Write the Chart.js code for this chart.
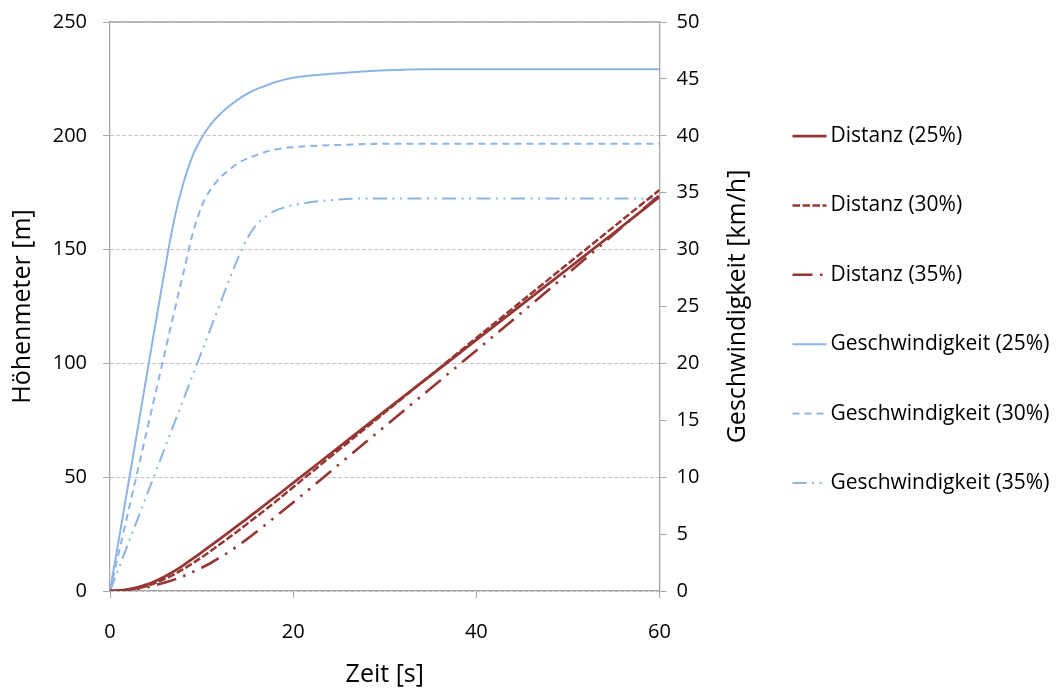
<!DOCTYPE html>
<html>
<head>
<meta charset="utf-8">
<script src="https://cdn.jsdelivr.net/npm/chart.js@4.4.0/dist/chart.umd.min.js"></script>
<style>
  html, body { margin: 0; padding: 0; background: #fff; }
  #wrap { width: 1062px; height: 688px; }
</style>
</head>
<body>
<div id="wrap"><canvas id="chart"></canvas></div>
<script>
// time axis [s]
const zeit = [0, 2, 4, 6, 7, 8, 9, 10, 11, 12, 13, 14, 15, 16, 17, 18, 20, 25, 30, 35, 40, 45, 50, 55, 60];

// Höhenmeter [m]
const distanz25 = [0, 0.7, 2.8, 6.4, 8.7, 11.3, 14.1, 17.0, 19.9, 22.9, 25.9, 28.9, 31.9, 35.0, 38.1, 41.2, 47.5, 63.2, 79.0, 94.6, 110.3, 125.9, 141.6, 157.3, 173.2];
const distanz30 = [0, 0.5, 2.2, 5.3, 7.3, 9.6, 12.1, 14.8, 17.6, 20.5, 23.5, 26.5, 29.6, 32.7, 35.8, 39.0, 45.6, 62.0, 78.4, 94.8, 111.2, 127.5, 143.8, 160.0, 176.2];
const distanz35 = [0, 0.4, 1.6, 3.7, 5.0, 6.5, 8.3, 10.2, 12.3, 14.7, 17.2, 20.0, 22.9, 26.0, 29.2, 32.4, 38.9, 55.6, 72.3, 89.0, 105.7, 122.5, 139.5, 156.7, 174.0];

// Geschwindigkeit [km/h]
const geschw25 = [0, 9.4, 18.9, 28.3, 32.6, 35.8, 38.2, 39.8, 41.0, 41.9, 42.6, 43.2, 43.7, 44.1, 44.4, 44.7, 45.1, 45.5, 45.75, 45.85, 45.85, 45.85, 45.85, 45.85, 45.85];
const geschw30 = [0, 7.0, 14.0, 21.0, 24.5, 27.9, 31.3, 33.8, 35.3, 36.3, 37.0, 37.6, 38.0, 38.3, 38.6, 38.8, 39.0, 39.2, 39.3, 39.3, 39.3, 39.3, 39.3, 39.3, 39.3];
const geschw35 = [0, 4.2, 8.4, 12.6, 14.7, 16.8, 18.9, 21.0, 23.1, 25.2, 27.3, 29.3, 31.0, 32.2, 32.9, 33.4, 33.9, 34.4, 34.5, 34.5, 34.5, 34.5, 34.5, 34.5, 34.5];

// tick labels
const xTicks = [0, 20, 40, 60];
const yTicks = [0, 50, 100, 150, 200, 250];
const y1Ticks = [0, 5, 10, 15, 20, 25, 30, 35, 40, 45, 50];

const ROT = '#953735';
const BLAU = '#8EB4E3';
const FONT = '"Open Sans", "Noto Sans", sans-serif';

const pts = arr => zeit.map((t, i) => ({ x: t, y: arr[i] }));

function line(label, arr, color, width, dash, axis) {
  return {
    label: label,
    data: pts(arr),
    yAxisID: axis,
    borderColor: color,
    backgroundColor: color,
    borderWidth: width,
    borderDash: dash,
    borderCapStyle: 'butt',
    pointRadius: 0,
    pointHoverRadius: 0,
    fill: false,
    cubicInterpolationMode: 'monotone'
  };
}

// right axis title reads bottom-to-top like the left one, plus solid top edge
const rightTitle = {
  id: 'rightTitle',
  beforeDatasetsDraw(chart) {
    const a = chart.chartArea;
    const ctx = chart.ctx;
    ctx.save();
    ctx.strokeStyle = '#a6a6a6';
    ctx.lineWidth = 1.3;
    ctx.beginPath();
    ctx.moveTo(a.left, a.top);
    ctx.lineTo(a.right, a.top);
    ctx.stroke();
    ctx.restore();
  },
  afterDraw(chart) {
    const s = chart.scales.y1;
    const ctx = chart.ctx;
    ctx.save();
    ctx.font = '25px ' + FONT;
    ctx.fillStyle = '#000';
    ctx.textAlign = 'center';
    ctx.textBaseline = 'middle';
    ctx.translate(s.right - 2, (s.top + s.bottom) / 2);
    ctx.rotate(-Math.PI / 2);
    ctx.fillText('Geschwindigkeit [km/h]', 0, 0);
    ctx.restore();
  }
};

// legend column on the right, one row per series
const sideLegend = {
  id: 'sideLegend',
  afterDraw(chart) {
    const ctx = chart.ctx;
    const x0 = chart.scales.y1.right + 53;
    const top = 136, step = 69.4;
    chart.data.datasets.forEach((ds, i) => {
      const y = top + i * step;
      ctx.save();
      ctx.strokeStyle = ds.borderColor;
      ctx.lineWidth = ds.borderWidth;
      ctx.setLineDash(ds.borderDash);
      ctx.beginPath();
      ctx.moveTo(x0, y);
      ctx.lineTo(x0 + 34, y);
      ctx.stroke();
      ctx.setLineDash([]);
      ctx.font = '21px ' + FONT;
      ctx.fillStyle = '#000';
      ctx.textAlign = 'left';
      ctx.textBaseline = 'middle';
      ctx.fillText(ds.label, x0 + 38, y);
      ctx.restore();
    });
  }
};

new Chart(document.getElementById('chart'), {
  type: 'line',
  data: {
    datasets: [
      line('Distanz (25%)', distanz25, ROT, 2.75, [], 'y'),
      line('Distanz (30%)', distanz30, ROT, 2.5, [7.5, 2.5], 'y'),
      line('Distanz (35%)', distanz35, ROT, 2.6, [20, 7.5, 2.5, 7.5, 2.5, 7.5], 'y'),
      line('Geschwindigkeit (25%)', geschw25, BLAU, 2, [], 'y1'),
      line('Geschwindigkeit (30%)', geschw30, BLAU, 2, [7, 5], 'y1'),
      line('Geschwindigkeit (35%)', geschw35, BLAU, 2, [14, 5.5, 2, 5.5, 2, 5.5], 'y1')
    ]
  },
  options: {
    responsive: true,
    maintainAspectRatio: false,
    animation: false,
    layout: { padding: { top: 22, right: 322.5, bottom: 0, left: 0 } },
    plugins: {
      tooltip: { enabled: false },
      legend: { display: false }
    },
    scales: {
      x: {
        type: 'linear',
        min: 0,
        max: 60,
        afterBuildTicks: s => { s.ticks = xTicks.map(v => ({ value: v })); },
        afterFit: s => { s.height = 97; s.paddingLeft = 0; s.paddingRight = 0; },
        ticks: { color: '#000', padding: 22, font: { family: FONT, size: 20 } },
        grid: { drawOnChartArea: false, tickLength: 7, color: '#a6a6a6' },
        border: { color: '#a6a6a6', width: 1.3 },
        title: {
          display: true,
          text: 'Zeit [s]',
          color: '#000',
          font: { family: FONT, size: 25, lineHeight: 1 },
          padding: { top: 0, bottom: 1 }
        }
      },
      y: {
        position: 'left',
        min: 0,
        max: 250,
        afterBuildTicks: s => { s.ticks = yTicks.map(v => ({ value: v })); },
        afterFit: s => { s.width = 110; s.paddingTop = 0; s.paddingBottom = 0; },
        ticks: { color: '#000', padding: 16, font: { family: FONT, size: 20 } },
        grid: { color: '#c6c6c6', tickColor: '#a6a6a6', tickLength: 7 },
        border: { color: '#a6a6a6', width: 1.3, dash: [4, 2] },
        title: {
          display: true,
          text: 'Höhenmeter [m]',
          color: '#000',
          font: { family: FONT, size: 25 },
          padding: { top: 8, bottom: 0 }
        }
      },
      y1: {
        position: 'right',
        min: 0,
        max: 50,
        afterBuildTicks: s => { s.ticks = y1Ticks.map(v => ({ value: v })); },
        afterFit: s => { s.width = 80; s.paddingTop = 0; s.paddingBottom = 0; },
        ticks: { color: '#000', padding: 10, font: { family: FONT, size: 20 } },
        grid: { drawOnChartArea: false, color: '#a6a6a6', tickLength: 7 },
        border: { color: '#a6a6a6', width: 1.3 }
      }
    }
  },
  plugins: [rightTitle, sideLegend]
});
</script>
</body>
</html>
